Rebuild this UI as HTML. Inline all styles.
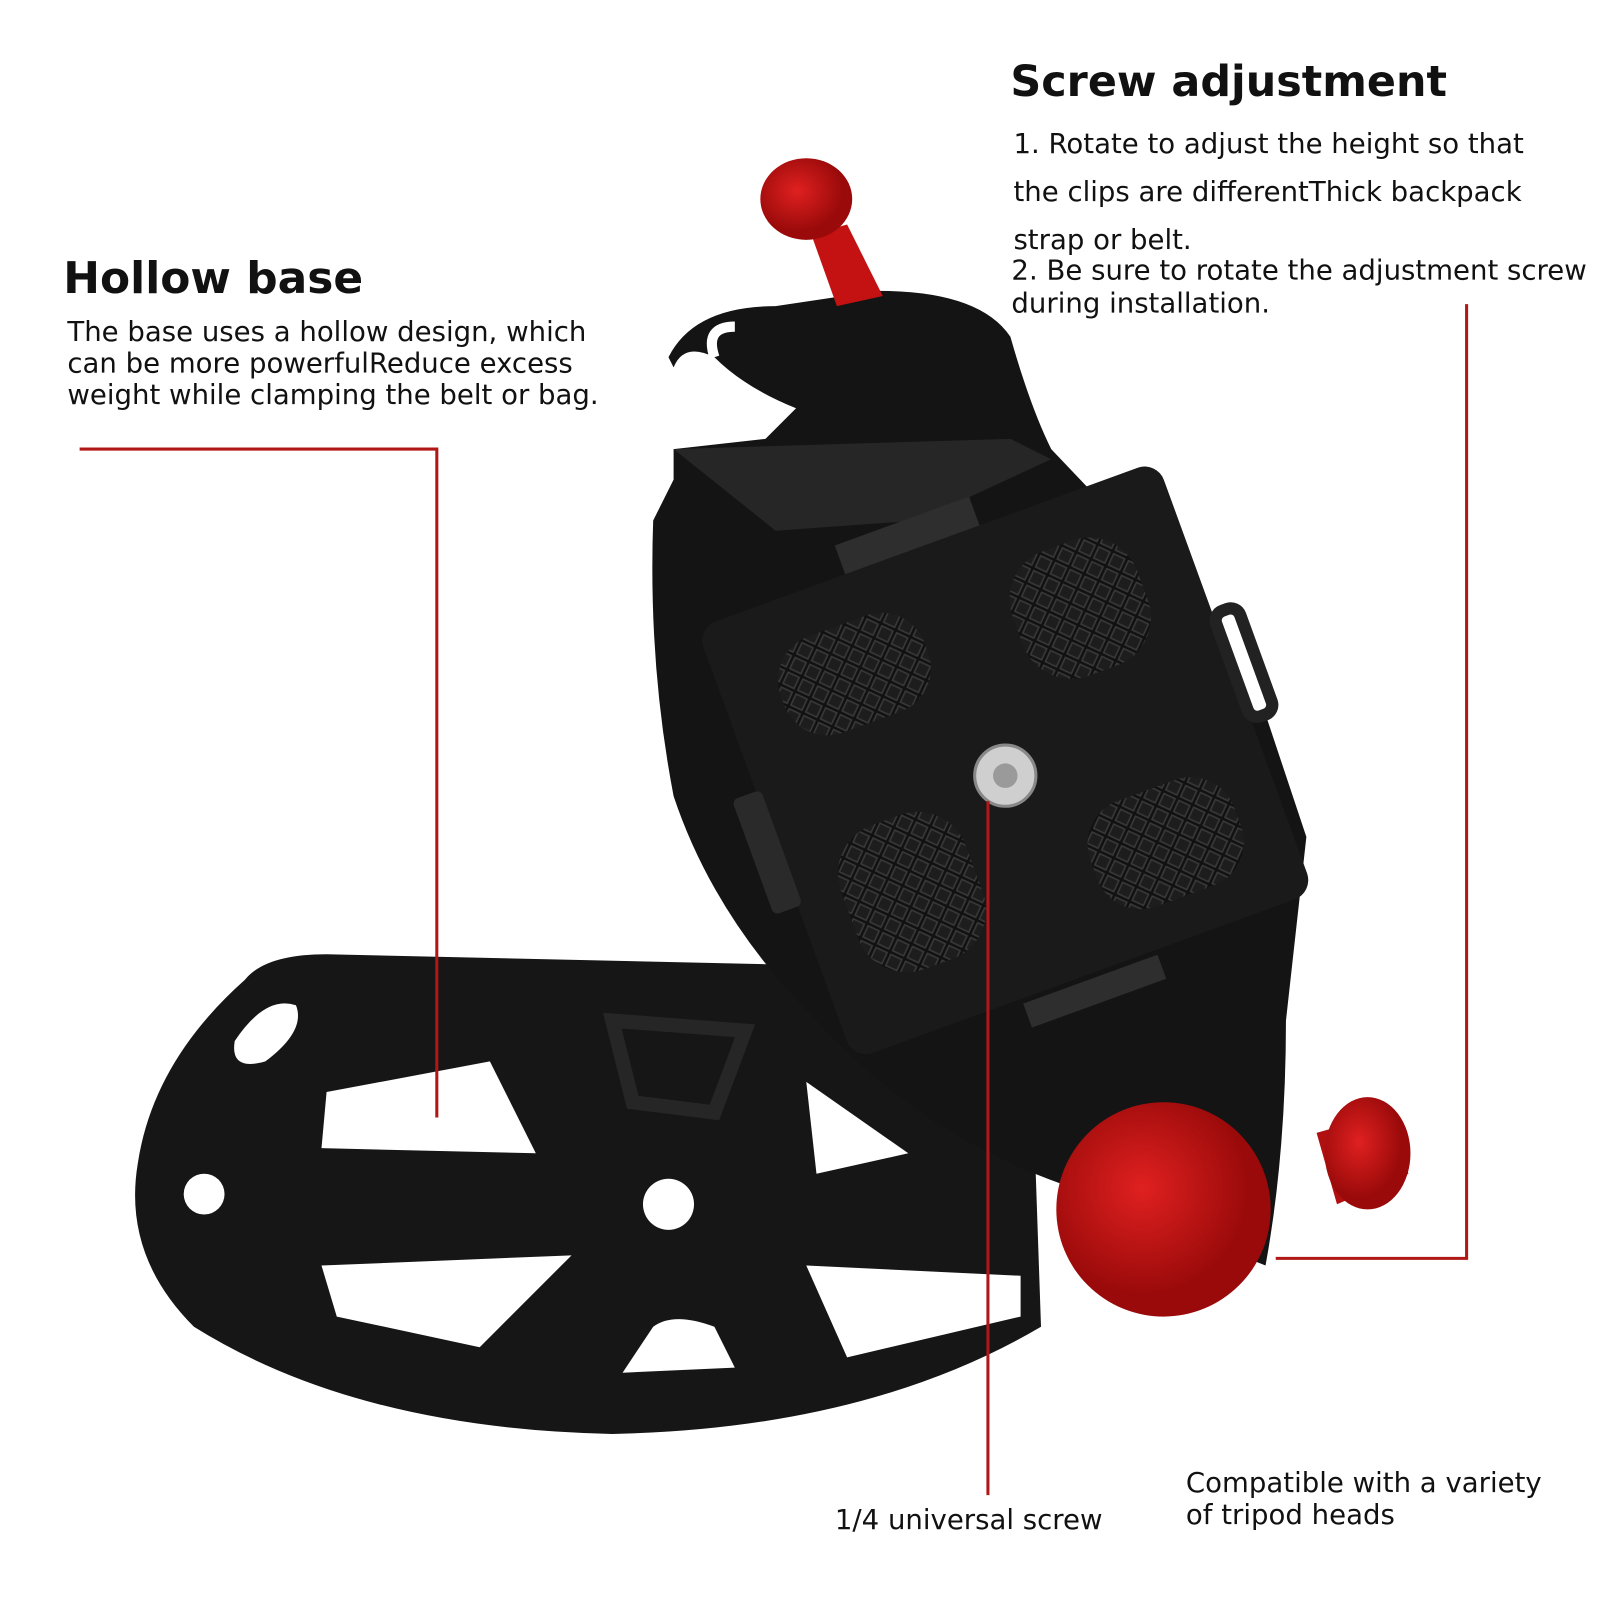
<!DOCTYPE html>
<html><head><style>
body{margin:0;background:#fff;width:1600px;height:1600px;overflow:hidden;position:relative;font-family:"DejaVu Sans","Liberation Sans",sans-serif;color:#111}
#w{position:absolute;left:0;top:0;width:1570px;height:1570px;transform:scale(1.0206);transform-origin:0 0}
.t{position:absolute;white-space:nowrap}
h1{position:absolute;margin:0;font-size:42px;font-weight:bold;color:#111}
</style></head><body><div id="w">
<svg width="1570" height="1570" style="position:absolute;left:0;top:0">
<defs>
<pattern id="kn" width="16" height="16" patternUnits="userSpaceOnUse" patternTransform="rotate(45)">
<rect width="16" height="16" fill="#111"/><rect x="2" y="2" width="12" height="12" fill="#1d1d1d" stroke="#3a3a3a" stroke-width="1.5"/></pattern>
<radialGradient id="rd" cx="0.4" cy="0.4"><stop offset="0" stop-color="#e02020"/><stop offset="1" stop-color="#9a0a0a"/></radialGradient>
</defs>
<path d="M135,1140 Q150,1040 240,960 Q260,935 320,935 L760,945 Q900,960 1010,1010 L1020,1300 Q850,1400 600,1405 Q350,1400 190,1300 Q120,1230 135,1140 Z" fill="#161616"/>
<g fill="#fff">
<path d="M230,1020 Q260,975 290,985 Q300,1010 260,1040 Q225,1050 230,1020Z"/>
<path d="M320,1070 L480,1040 L525,1130 L315,1125 Z"/>
<path d="M315,1240 L560,1230 L470,1320 L330,1290 Z"/>
<path d="M640,1300 Q660,1285 700,1300 L720,1340 L610,1345 Z"/>
<path d="M790,1240 L1000,1250 L1000,1290 L830,1330 Z"/>
<path d="M790,1060 L890,1130 L800,1150 Z"/>
<circle cx="200" cy="1170" r="20"/><circle cx="655" cy="1180" r="25"/>
</g>
<g fill="none" stroke="#262626" stroke-width="14">
<path d="M600,1000 L730,1010 L700,1090 L620,1080 Z"/>
</g>
<path d="M655,350 Q680,300 760,300 L860,285 Q960,285 990,330 Q1010,400 1030,440 L1220,640 L1280,820 L1260,1000 Q1260,1130 1240,1240 L1040,1160 Q900,1110 800,1000 Q700,900 660,780 Q635,650 640,510 L660,470 L660,440 L750,430 L780,400 Q730,380 700,350 Q670,335 660,360Z" fill="#141414"/>
<path d="M700,350 Q690,320 720,320" stroke="#fff" stroke-width="10" fill="none"/>
<path d="M660,440 L990,430 L1030,450 L900,510 L760,520 Z" fill="#262626"/>
<path d="M795,230 L830,220 L865,290 L820,300 Z" fill="#c41212"/>
<ellipse cx="790" cy="195" rx="45" ry="40" fill="url(#rd)"/>
<g transform="rotate(-20 985 745)">
<rect x="745" y="520" width="480" height="450" rx="20" fill="#1a1a1a"/>
<rect x="800" y="565" width="150" height="100" rx="45" fill="url(#kn)"/>
<rect x="1040" y="565" width="130" height="130" rx="50" fill="url(#kn)"/>
<rect x="790" y="760" width="130" height="150" rx="50" fill="url(#kn)"/>
<rect x="1030" y="820" width="150" height="110" rx="45" fill="url(#kn)"/>
<rect x="720" y="690" width="30" height="120" rx="6" fill="#2a2a2a"/>
<rect x="1225" y="680" width="25" height="110" rx="10" fill="#fff" stroke="#222" stroke-width="12"/>
<rect x="900" y="490" width="140" height="30" fill="#2e2e2e"/>
<rect x="920" y="975" width="140" height="25" fill="#2e2e2e"/>
</g>
<circle cx="985" cy="760" r="30" fill="#cfcfcf" stroke="#888" stroke-width="3"/>
<circle cx="985" cy="760" r="12" fill="#9a9a9a"/>
<path d="M1290,1110 L1360,1090 L1380,1150 L1310,1180Z" fill="#b01010"/>
<ellipse cx="1340" cy="1130" rx="42" ry="55" fill="url(#rd)"/>
<circle cx="1140" cy="1185" r="105" fill="url(#rd)"/>
<g stroke="#b01818" stroke-width="3" fill="none">
<path d="M78,440 L428,440 L428,1095"/>
<path d="M1437,298 L1437,1233 L1250,1233"/>
<path d="M968,785 L968,1465"/>
</g>
</svg>
<h1 style="left:990px;top:55px">Screw adjustment</h1>
<div class="t" style="left:993px;top:118px;font-size:27px;line-height:47px">1. Rotate to adjust the height so that<br>the clips are differentThick backpack<br>strap or belt.</div>
<div class="t" style="left:991px;top:250px;font-size:27px;line-height:32px">2. Be sure to rotate the adjustment screw<br>during installation.</div>
<h1 style="left:62px;top:248px;font-size:43px">Hollow base</h1>
<div class="t" style="left:66px;top:310px;font-size:27px;line-height:31px">The base uses a hollow design, which<br>can be more powerfulReduce excess<br>weight while clamping the belt or bag.</div>
<div class="t" style="left:818px;top:1474px;font-size:27px">1/4 universal screw</div>
<div class="t" style="left:1162px;top:1438px;font-size:27px;line-height:31px">Compatible with a variety<br>of tripod heads</div>
</div></body></html>
